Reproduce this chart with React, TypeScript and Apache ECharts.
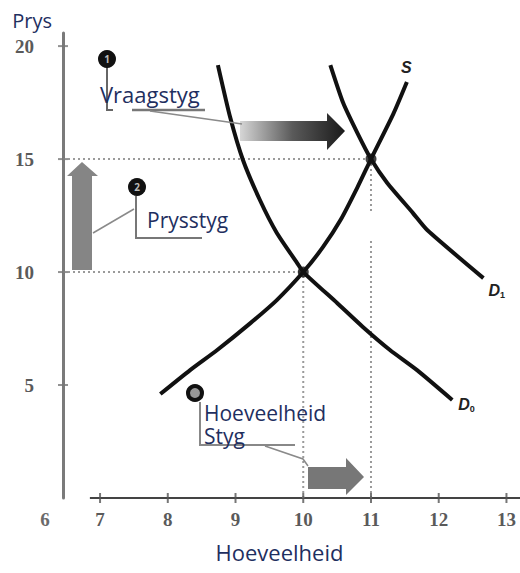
import React, { useEffect, useRef } from "react";
import * as echarts from "echarts";

// Axis ranges & tick labels
const X_MIN = 6.453;
const X_MAX = 13.2;
const Y_MIN = 0;
const Y_MAX = 20.58;
const xTicks = [7, 8, 9, 10, 11, 12, 13];
const yTicks = [5, 10, 15, 20];

// Curves (Hoeveelheid, Prys)
const supplyS: number[][] = [
  [7.89, 4.6], [8.33, 5.66], [8.73, 6.55], [9.22, 7.74], [9.61, 8.76], [10, 10],
  [10.29, 11.1], [10.55, 12.3], [10.8, 13.75], [11, 15], [11.33, 17.0], [11.53, 18.41],
];
const demandD0: number[][] = [
  [8.74, 19.16], [8.92, 16.86], [9.11, 14.96], [9.36, 13.19], [9.61, 11.73], [9.91, 10.4], [10, 10],
  [10.5, 8.63], [10.88, 7.57], [11.28, 6.55], [11.68, 5.66], [12.2, 4.34],
];
const demandD1: number[][] = [
  [10.4, 19.16], [10.59, 17.48], [10.8, 16.15], [11, 15], [11.24, 13.94], [11.62, 12.61], [11.83, 11.86], [12.66, 9.73],
];
// Equilibria
const equilibria: number[][] = [[10, 10], [11, 15]];

const TXT = "#1f2f5f";
const FONT = '"Open Sans", sans-serif';
const TICKFONT = '"Liberation Serif", serif';
const LBLFONT = '"Liberation Sans", sans-serif';

const richCurve = {
  m: { fontSize: 16, fontWeight: "bold", fontStyle: "italic", color: "#222", fontFamily: LBLFONT },
  s: { fontSize: 9, fontWeight: "bold", color: "#222", fontFamily: LBLFONT, padding: [9, 0, 0, 0] },
};

export default function App() {
  const ref = useRef<HTMLDivElement>(null);
  useEffect(() => {
    if (!ref.current) return;
    const chart = echarts.init(ref.current, undefined, { renderer: "svg" });
    const curveStyle = { color: "#111", width: 4 };
    const dotStyle = { color: "#9a9a9a", width: 2, type: [2, 3] as any };
    const guide = (data: number[][]) => ({
      type: "line", data, symbol: "none", lineStyle: dotStyle, z: 1, silent: true,
    });
    const curve = (name: string, data: number[][], text: string, offset: number[]) => ({
      type: "line",
      name,
      data,
      smooth: 0.2,
      symbol: "none",
      lineStyle: curveStyle,
      z: 3,
      endLabel: { show: true, formatter: text, offset, distance: 2, rich: richCurve },
    });
    const option: any = {
      animation: false,
      grid: { left: 63, right: 0, top: 33, bottom: 75 },
      xAxis: {
        type: "value",
        min: X_MIN,
        max: X_MAX,
        name: "Hoeveelheid",
        nameLocation: "middle",
        nameGap: 43,
        nameTextStyle: { fontFamily: FONT, fontSize: 22, color: TXT, padding: [0, 24, 0, 0] },
        axisLine: { show: false },
        axisTick: { show: false },
        splitLine: { show: false },
        axisLabel: {
          customValues: xTicks,
          margin: 12,
          fontFamily: TICKFONT,
          fontSize: 19,
          fontWeight: "bold",
          color: "#5a5a5a",
        },
      },
      yAxis: {
        type: "value",
        min: Y_MIN,
        max: Y_MAX,
        name: "Prys",
        nameLocation: "end",
        nameGap: 3,
        nameTextStyle: { fontFamily: FONT, fontSize: 20, color: TXT, align: "right", verticalAlign: "bottom", padding: [0, 11, 0, 0] },
        axisLine: { show: true, lineStyle: { color: "#7a7a7a", width: 3 } },
        axisTick: { show: false },
        splitLine: { show: false },
        axisLabel: {
          customValues: yTicks,
          margin: 29,
          fontFamily: TICKFONT,
          fontSize: 19,
          fontWeight: "bold",
          color: "#5a5a5a",
        },
      },
      series: [
        // x axis line (starts off the origin)
        {
          type: "line", data: [[6.85, 0], [X_MAX, 0]], symbol: "none", silent: true,
          lineStyle: { color: "#444", width: 2 }, z: 1,
        },
        // axis ticks crossing the axes
        {
          type: "scatter", data: xTicks.map((v) => [v, 0]), symbol: "rect", symbolSize: [2, 10],
          itemStyle: { color: "#555" }, silent: true, z: 1,
        },
        {
          type: "scatter", data: yTicks.map((v) => [X_MIN, v]), symbol: "rect", symbolSize: [10, 2],
          itemStyle: { color: "#777" }, silent: true, z: 1,
        },
        // dotted guide lines
        guide([[X_MIN, 15], [11, 15]]),
        guide([[X_MIN, 10], [10, 10]]),
        guide([[10, 0], [10, 10]]),
        guide([[11, 0], [11, 11.4]]),
        guide([[11, 12.7], [11, 15]]),
        // curves
        curve("S", supplyS, "{m|S}", [-8, -15]),
        curve("D0", demandD0, "{m|D}{s|0}", [4, 5]),
        curve("D1", demandD1, "{m|D}{s|1}", [3, 12]),
        // equilibrium points
        { type: "scatter", data: equilibria, symbolSize: 11, itemStyle: { color: "#111" }, z: 4 },
      ],
      graphic: [
        // "6" at origin
        { type: "text", x: 45, y: 519, style: { text: "6", fontFamily: TICKFONT, fontSize: 19, fontWeight: "bold", fill: "#6a6a6a", align: "center", verticalAlign: "middle" } },
        // Arrow 1 (gradient, demand shift)
        {
          type: "polygon",
          shape: { points: [[240, 121], [327, 121], [327, 113], [345, 131], [327, 150], [327, 141], [240, 141]] },
          style: {
            fill: new echarts.graphic.LinearGradient(0, 0, 1, 0, [
              { offset: 0, color: "#d6d6d6" },
              { offset: 0.5, color: "#5a5a5a" },
              { offset: 1, color: "#1a1a1a" },
            ]),
          },
          z: 2,
        },
        // Arrow 2 (vertical, price rise)
        {
          type: "polygon",
          shape: { points: [[72, 270], [72, 176], [67, 176], [82, 162], [98, 176], [92, 176], [92, 270]] },
          style: { fill: "#858585" },
          z: 2,
        },
        // Arrow 3 (quantity rise)
        {
          type: "polygon",
          shape: { points: [[308, 467], [346, 467], [346, 458], [364, 477], [346, 495], [346, 489], [308, 489]] },
          style: { fill: "#777" },
          z: 2,
        },
        // callout lines
        { type: "polyline", shape: { points: [[107, 66], [107, 110], [113, 110]] }, style: { stroke: "#666", lineWidth: 2, fill: null }, z: 5 },
        { type: "line", shape: { x1: 132, y1: 110, x2: 205, y2: 110 }, style: { stroke: "#777", lineWidth: 2.5 }, z: 5 },
        { type: "line", shape: { x1: 150, y1: 111, x2: 242, y2: 124 }, style: { stroke: "#8a8a8a", lineWidth: 1.5 }, z: 5 },
        { type: "polyline", shape: { points: [[136, 196], [136, 238], [202, 238]] }, style: { stroke: "#777", lineWidth: 2, fill: null }, z: 5 },
        { type: "line", shape: { x1: 134, y1: 209, x2: 93, y2: 233 }, style: { stroke: "#8a8a8a", lineWidth: 1.5 }, z: 5 },
        { type: "polyline", shape: { points: [[200, 402], [200, 445], [295, 445]] }, style: { stroke: "#888", lineWidth: 2, fill: null }, z: 5 },
        { type: "polyline", shape: { points: [[265, 446], [303, 459], [308, 466]] }, style: { stroke: "#8a8a8a", lineWidth: 1.5, fill: null }, z: 5 },
        // numbered markers
        { type: "circle", shape: { cx: 107, cy: 59, r: 9 }, style: { fill: "#111" }, z: 6 },
        { type: "text", x: 107, y: 59, style: { text: "1", fill: "#bbb", fontSize: 10, fontWeight: "bold", fontFamily: FONT, align: "center", verticalAlign: "middle" }, z: 7 },
        { type: "circle", shape: { cx: 137, cy: 187, r: 9 }, style: { fill: "#111" }, z: 6 },
        { type: "text", x: 137, y: 187, style: { text: "2", fill: "#bbb", fontSize: 10, fontWeight: "bold", fontFamily: FONT, align: "center", verticalAlign: "middle" }, z: 7 },
        { type: "circle", shape: { cx: 195, cy: 393, r: 7 }, style: { fill: "#999", stroke: "#111", lineWidth: 4 }, z: 6 },
        // callout texts
        { type: "text", x: 100, y: 94, style: { text: "Vraagstyg", fill: TXT, fontSize: 22, fontFamily: FONT, verticalAlign: "middle" }, z: 7 },
        { type: "text", x: 147, y: 220, style: { text: "Prysstyg", fill: TXT, fontSize: 21, fontFamily: FONT, verticalAlign: "middle" }, z: 7 },
        { type: "text", x: 204, y: 401, style: { text: "Hoeveelheid\nStyg", fill: TXT, fontSize: 21, lineHeight: 23, fontFamily: FONT, verticalAlign: "top" }, z: 7 },
      ],
    };
    chart.setOption(option);
    return () => chart.dispose();
  }, []);
  return (
    <div
      ref={ref}
      style={{ position: "absolute", left: 0, top: 0, width: 520, height: 573, background: "#fff" }}
    />
  );
}
